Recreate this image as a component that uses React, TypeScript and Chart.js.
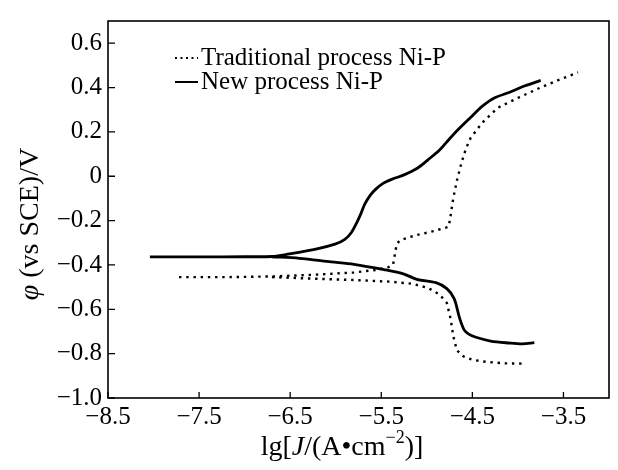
import React, { useEffect, useRef } from "react";
import { Chart, registerables } from "chart.js";

Chart.register(...registerables);

const xTickValues = [-8.5, -7.5, -6.5, -5.5, -4.5, -3.5];
const yTickValues = [-1.0, -0.8, -0.6, -0.4, -0.2, 0, 0.2, 0.4, 0.6];

const legendLabels = ["Traditional process Ni-P", "New process Ni-P"];

// Traditional process Ni-P (dotted)
const tradCathodicX = [-6.7, -6.23, -5.8, -5.38, -5.16, -4.99, -4.86, -4.78, -4.74, -4.71, -4.67, -4.6, -4.5, -4.35, -4.13, -3.93];
const tradCathodicY = [-0.455, -0.462, -0.468, -0.476, -0.485, -0.503, -0.533, -0.572, -0.64, -0.72, -0.785, -0.812, -0.828, -0.837, -0.844, -0.845];
const tradAnodicX = [-7.72, -7.2, -6.7, -6.23, -5.8, -5.55, -5.42, -5.37, -5.35, -5.33, -5.29, -5.12, -4.95, -4.76, -4.74, -4.71, -4.67, -4.62, -4.57, -4.52, -4.45, -4.39, -4.22, -4.0, -3.74, -3.53, -3.34];
const tradAnodicY = [-0.455, -0.455, -0.452, -0.444, -0.434, -0.422, -0.41, -0.398, -0.35, -0.305, -0.288, -0.266, -0.25, -0.228, -0.18, -0.1, -0.02, 0.06, 0.125, 0.172, 0.21, 0.242, 0.309, 0.353, 0.402, 0.438, 0.468];

// New process Ni-P (solid)
const newCathodicX = [-6.7, -6.4, -6.05, -5.8, -5.47, -5.25, -5.11, -4.9, -4.78, -4.7, -4.64, -4.59, -4.54, -4.46, -4.3, -4.1, -3.95, -3.82];
const newCathodicY = [-0.363, -0.37, -0.386, -0.397, -0.421, -0.441, -0.465, -0.48, -0.507, -0.552, -0.64, -0.693, -0.712, -0.726, -0.743, -0.752, -0.756, -0.75];
const newAnodicX = [-8.04, -7.5, -7.0, -6.7, -6.55, -6.23, -6.0, -5.9, -5.83, -5.77, -5.72, -5.68, -5.62, -5.56, -5.48, -5.38, -5.25, -5.1, -4.99, -4.86, -4.75, -4.65, -4.52, -4.39, -4.26, -4.09, -3.92, -3.75];
const newAnodicY = [-0.364, -0.364, -0.363, -0.362, -0.353, -0.33, -0.305, -0.285, -0.255, -0.21, -0.165, -0.125, -0.085, -0.058, -0.032, -0.013, 0.006, 0.037, 0.073, 0.118, 0.169, 0.213, 0.265, 0.316, 0.353, 0.379, 0.408, 0.432];

const toPts = (xs: number[], ys: number[]) => xs.map((x, i) => ({ x, y: ys[i] }));

const FONT = "'Liberation Serif', 'DejaVu Serif', serif";
const fmt = (v: number, dec: number) => {
  const s = Math.abs(v) < 1e-9 ? "0" : Math.abs(v).toFixed(dec);
  return v < -1e-9 ? "\u2212" + s : s;
};

type Run = { t: string; italic?: boolean; sup?: boolean };

function drawRuns(ctx: CanvasRenderingContext2D, runs: Run[], cx: number, cy: number, size: number) {
  const fontFor = (r: Run) => `${r.italic ? "italic " : ""}${r.sup ? Math.round(size * 0.65) : size}px ${FONT}`;
  let total = 0;
  const widths = runs.map((r) => {
    ctx.font = fontFor(r);
    const w = ctx.measureText(r.t).width;
    total += w;
    return w;
  });
  let x = cx - total / 2;
  ctx.textBaseline = "alphabetic";
  ctx.textAlign = "left";
  const base = cy + size * 0.33;
  runs.forEach((r, i) => {
    ctx.font = fontFor(r);
    ctx.fillText(r.t, x, r.sup ? base - size * 0.42 : base);
    x += widths[i];
  });
}

const framePlugin = {
  id: "frameDecor",
  afterDraw(chart: any) {
    const { ctx, chartArea } = chart;
    const { left, right, top, bottom } = chartArea;
    const xs = chart.scales.x;
    const ys = chart.scales.y;
    ctx.save();
    ctx.strokeStyle = "#000";
    ctx.fillStyle = "#000";
    ctx.lineWidth = 1.6;
    ctx.strokeRect(left, top, right - left, bottom - top);
    ctx.lineWidth = 1.3;
    ctx.beginPath();
    xTickValues.forEach((v) => {
      const px = xs.getPixelForValue(v);
      ctx.moveTo(px, bottom);
      ctx.lineTo(px, bottom - 6);
    });
    yTickValues.forEach((v) => {
      const py = ys.getPixelForValue(v);
      ctx.moveTo(left, py);
      ctx.lineTo(left + 7, py);
    });
    ctx.stroke();

    // legend
    const lx0 = 175, lx1 = 198;
    const ly = [58, 82];
    ctx.lineWidth = 2.2;
    ctx.setLineDash([2, 3.5]);
    ctx.beginPath();
    ctx.moveTo(lx0, ly[0]);
    ctx.lineTo(lx1, ly[0]);
    ctx.stroke();
    ctx.setLineDash([]);
    ctx.lineWidth = 2;
    ctx.beginPath();
    ctx.moveTo(lx0, ly[1]);
    ctx.lineTo(lx1, ly[1]);
    ctx.stroke();
    ctx.font = `25px ${FONT}`;
    ctx.textAlign = "left";
    ctx.textBaseline = "middle";
    ctx.fillText(legendLabels[0], 201, ly[0]);
    ctx.fillText(legendLabels[1], 201, ly[1]);

    // x title
    drawRuns(
      ctx,
      [{ t: "lg[" }, { t: "J", italic: true }, { t: "/(A\u2022cm" }, { t: "\u22122", sup: true }, { t: ")]" }],
      342,
      446,
      28
    );
    // y title
    ctx.translate(29, 224);
    ctx.rotate(-Math.PI / 2);
    drawRuns(ctx, [{ t: "\u03c6", italic: true }, { t: " (vs SCE)/V" }], 0, 0, 28);
    ctx.restore();
  },
};

export default function App() {
  const ref = useRef<HTMLCanvasElement | null>(null);
  useEffect(() => {
    document.body.style.margin = "0";
    document.body.style.background = "#fff";
    const canvas = ref.current;
    if (!canvas) return;
    const chart = new Chart(canvas, {
      type: "scatter",
      data: {
        datasets: [
          {
            label: legendLabels[0] + " (anodic)",
            data: toPts(tradAnodicX, tradAnodicY),
            showLine: true,
            borderColor: "#000",
            borderWidth: 2.4,
            borderDash: [2.4, 4.8],
            pointRadius: 0,
            tension: 0,
          },
          {
            label: legendLabels[0] + " (cathodic)",
            data: toPts(tradCathodicX, tradCathodicY),
            showLine: true,
            borderColor: "#000",
            borderWidth: 2.4,
            borderDash: [2.4, 4.8],
            pointRadius: 0,
            tension: 0,
          },
          {
            label: legendLabels[1] + " (anodic)",
            data: toPts(newAnodicX, newAnodicY),
            showLine: true,
            borderColor: "#000",
            borderWidth: 2.8,
            pointRadius: 0,
            tension: 0.3,
          },
          {
            label: legendLabels[1] + " (cathodic)",
            data: toPts(newCathodicX, newCathodicY),
            showLine: true,
            borderColor: "#000",
            borderWidth: 2.8,
            pointRadius: 0,
            tension: 0.3,
          },
        ],
      },
      options: {
        animation: false,
        responsive: false,
        layout: { padding: { top: 10, right: 9, left: 0, bottom: 0 } },
        plugins: { legend: { display: false }, tooltip: { enabled: false } },
        scales: {
          x: {
            type: "linear",
            min: -8.5,
            max: -3.0,
            afterBuildTicks: (scale: any) => {
              scale.ticks = xTickValues.map((value) => ({ value }));
            },
            afterFit: (scale: any) => {
              scale.height = 72;
            },
            grid: { display: false, drawTicks: false },
            border: { display: false },
            ticks: {
              padding: 4,
              color: "#000",
              font: { family: FONT, size: 25 },
              callback: (v: any) => fmt(Number(v), 1),
            },
          },
          y: {
            type: "linear",
            min: -1.0,
            max: 0.7,
            afterBuildTicks: (scale: any) => {
              scale.ticks = yTickValues.map((value) => ({ value }));
            },
            afterFit: (scale: any) => {
              scale.width = 108;
            },
            grid: { display: false, drawTicks: false },
            border: { display: false },
            ticks: {
              padding: 6,
              color: "#000",
              font: { family: FONT, size: 25 },
              callback: (v: any) => fmt(Number(v), 1),
            },
          },
        },
      },
      plugins: [framePlugin],
    });
    return () => chart.destroy();
  }, []);
  return (
    <div style={{ width: 618, height: 470 }}>
      <canvas ref={ref} width={618} height={470} style={{ display: "block" }} />
    </div>
  );
}
